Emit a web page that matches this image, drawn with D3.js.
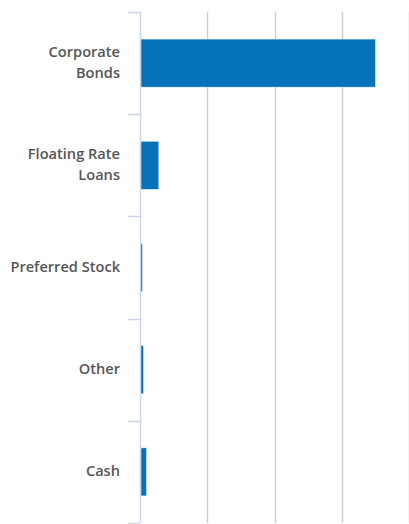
<!DOCTYPE html>
<html>
<head>
<meta charset="utf-8">
<script src="https://cdn.jsdelivr.net/npm/d3@7"></script>
<style>
  body { margin: 0; background: #fff; }
  text { font-family: "Open Sans", sans-serif; }
</style>
</head>
<body>
<div id="chart"></div>
<script>
// portfolio composition, % of net assets
var categories = ["Corporate Bonds", "Floating Rate Loans", "Preferred Stock", "Other", "Cash"];
var weights = [87.2, 6.7, 0.6, 1.0, 2.1];
var xTicks = [0, 25, 50, 75, 100];

var W = 409, H = 524;
var margin = {top: 12, right: 0, bottom: 1, left: 140};

var svg = d3.select("#chart").append("svg").attr("width", W).attr("height", H);

var x = d3.scaleLinear().domain([0, 100]).range([margin.left, W - margin.right]);
var y = d3.scaleBand().domain(categories).range([margin.top, H - margin.bottom]).paddingInner(0.53).paddingOuter(0.265);

// vertical grid
svg.append("g").selectAll("line").data(xTicks.slice(1)).enter().append("line")
    .attr("x1", function(d){ return Math.round(x(d)) + 0.5; })
    .attr("x2", function(d){ return Math.round(x(d)) + 0.5; })
    .attr("y1", margin.top).attr("y2", H - margin.bottom)
    .attr("stroke", "#cdcdcd").attr("stroke-width", 1.4);

// bars
svg.append("g").selectAll("rect").data(categories).enter().append("rect")
    .attr("x", x(0) + 0.8)
    .attr("y", function(d){ return y(d); })
    .attr("width", function(d, i){ return x(weights[i]) - x(0); })
    .attr("height", y.bandwidth())
    .attr("fill", "#0672b8").attr("stroke", "#e8f1f8").attr("stroke-width", 0.5);

// category axis: line and ticks at band edges
var edges = categories.map(function(d){ return y(d) - y.step() * y.paddingInner() / 2; });
edges.push(H - margin.bottom);
svg.append("line").attr("x1", margin.left + 0.5).attr("x2", margin.left + 0.5)
    .attr("y1", margin.top).attr("y2", H - margin.bottom)
    .attr("stroke", "#ccd6eb").attr("stroke-width", 1.5);
svg.append("g").selectAll("line").data(edges).enter().append("line")
    .attr("x1", margin.left - 12).attr("x2", margin.left)
    .attr("y1", function(d){ return Math.round(d) + 0.5; })
    .attr("y2", function(d){ return Math.round(d) + 0.5; })
    .attr("stroke", "#ccd6eb").attr("stroke-width", 1.5);

// labels, wrapped to fit the left margin
var maxW = 114, lh = 21;
svg.append("g").selectAll("text").data(categories).enter().append("text")
    .attr("text-anchor", "end").attr("font-size", 14.6).attr("font-weight", 600).attr("fill", "#555")
    .each(function(d){
        var t = d3.select(this), words = d.split(" "), lines = [], cur = "";
        words.forEach(function(w){
            var test = cur ? cur + " " + w : w;
            t.text(test);
            if (cur && this.getComputedTextLength() > maxW) { lines.push(cur); cur = w; }
            else cur = test;
        }, this);
        lines.push(cur);
        t.text(null);
        var cy = y(d) + y.bandwidth() / 2;
        var y0 = cy + 4.5 - (lines.length - 1) * lh / 2;
        lines.forEach(function(l, i){
            t.append("tspan").attr("x", 120).attr("y", y0 + i * lh).text(l);
        });
    });
</script>
</body>
</html>
